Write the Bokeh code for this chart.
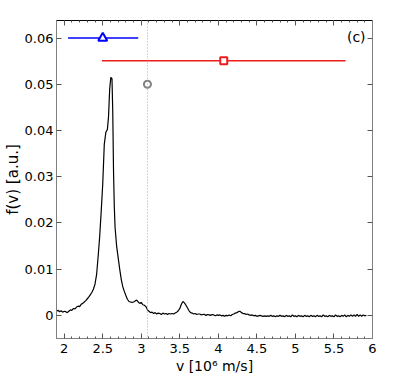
from bokeh.plotting import figure
from bokeh.models import (LinearAxis, SingleIntervalTicker, CustomJSTickFormatter,
                          Span, Label, Range1d)
from bokeh.embed import file_html
from bokeh.resources import INLINE

# ---- data -------------------------------------------------------------
v = [1.90, 1.92, 1.94, 1.96, 1.98, 2.00, 2.02, 2.04, 2.06, 2.08, 2.10, 2.12, 2.14,
     2.16, 2.18, 2.20, 2.22, 2.24, 2.26, 2.28, 2.30, 2.32, 2.34, 2.36, 2.38, 2.40,
     2.42, 2.44, 2.46, 2.48, 2.50, 2.52, 2.54, 2.56, 2.575, 2.59, 2.605, 2.62, 2.63,
     2.64, 2.65, 2.66, 2.68, 2.70, 2.72, 2.74, 2.76, 2.78, 2.80, 2.82, 2.84, 2.86,
     2.88, 2.90, 2.92, 2.94, 2.96, 2.98, 3.00, 3.02, 3.04, 3.06, 3.08, 3.10, 3.12,
     3.14, 3.16, 3.18, 3.20, 3.22, 3.24, 3.26, 3.28, 3.30, 3.32, 3.34, 3.36, 3.38,
     3.40, 3.42, 3.44, 3.46, 3.48, 3.50, 3.52, 3.54, 3.56, 3.58, 3.60, 3.62, 3.64,
     3.66, 3.68, 3.70, 3.72, 3.74, 3.76, 3.78, 3.80, 3.82, 3.84, 3.86, 3.88, 3.90,
     3.92, 3.94, 3.96, 3.98, 4.00, 4.02, 4.04, 4.06, 4.08, 4.10, 4.12, 4.14, 4.16,
     4.18, 4.20, 4.22, 4.24, 4.26, 4.28, 4.30, 4.32, 4.34, 4.36, 4.38, 4.40, 4.42,
     4.44, 4.46, 4.48, 4.50, 4.52, 4.54, 4.56, 4.58, 4.60, 4.62, 4.64, 4.66, 4.68,
     4.70, 4.72, 4.74, 4.76, 4.78, 4.80, 4.82, 4.84, 4.86, 4.88, 4.90, 4.92, 4.94,
     4.96, 4.98, 5.00, 5.02, 5.04, 5.06, 5.08, 5.10, 5.12, 5.14, 5.16, 5.18, 5.20,
     5.22, 5.24, 5.26, 5.28, 5.30, 5.32, 5.34, 5.36, 5.38, 5.40, 5.42, 5.44, 5.46,
     5.48, 5.50, 5.52, 5.54, 5.56, 5.58, 5.60, 5.62, 5.64, 5.66, 5.68, 5.70, 5.72,
     5.74, 5.76, 5.78, 5.80, 5.82, 5.84, 5.86, 5.88, 5.90, 5.92]

f = [0.0009, 0.0011, 0.0008, 0.0010, 0.0007, 0.0009, 0.0008, 0.0006, 0.0009, 0.0012,
     0.0011, 0.0015, 0.0014, 0.0018, 0.0020, 0.0019, 0.0024, 0.0026, 0.0029, 0.0032,
     0.0036, 0.0040, 0.0045, 0.0050, 0.0057, 0.0068,
     0.0088, 0.0127, 0.0170, 0.0225, 0.0285, 0.0370, 0.0396, 0.0402, 0.0430, 0.0490,
     0.0515, 0.0512, 0.0440, 0.0310, 0.0235, 0.0190, 0.0150, 0.0125, 0.0100, 0.0078,
     0.0062, 0.0052, 0.0043, 0.0035, 0.0030, 0.0029, 0.0028, 0.0029, 0.0031, 0.0033,
     0.0029, 0.0026, 0.0028, 0.0023, 0.0022, 0.0019, 0.0012, 0.0009, 0.0006, 0.0007,
     0.0004, 0.0006, 0.0003, 0.0005, 0.0004, 0.0002, 0.0005, 0.0003, 0.0004, 0.0002,
     0.0004, 0.0003, 0.0004, 0.0003, 0.0005, 0.0007, 0.0010, 0.0015, 0.0024, 0.0030,
     0.0027, 0.0022, 0.0016, 0.0010, 0.0006, 0.0005, 0.0003, 0.0004, 0.0002, 0.0003,
     0.0003, 0.0001, 0.0002, 0.0002, 0.0000, 0.0002, 0.0001, 0.0000, 0.0002, 0.0001,
     -0.0001, 0.0001, 0.0000, 0.0001, -0.0001, 0.0000, -0.0002, 0.0000, -0.0001, 0.0001,
     -0.0001, 0.0002, 0.0003, 0.0005, 0.0006, 0.0008, 0.0009, 0.0006, 0.0004, 0.0004,
     0.0002, 0.0003, 0.0001, 0.0000, 0.0001, -0.0001, 0.0000, -0.0002, -0.0001, 0.0000,
     -0.0001, -0.0002, -0.0001, -0.0002, -0.0001, -0.0002, 0.0000, -0.0002, -0.0001,
     -0.0003, -0.0001, -0.0002, 0.0000, -0.0002, -0.0001, -0.0003, 0.0000, -0.0002,
     -0.0001, -0.0003, 0.0001, -0.0002, -0.0001, -0.0003, 0.0000, -0.0002, -0.0001,
     -0.0003, 0.0000, -0.0002, -0.0001, -0.0003, 0.0000, -0.0002, -0.0001, -0.0003,
     0.0000, -0.0002, -0.0001, -0.0003, 0.0001, -0.0002, -0.0001, -0.0003, 0.0000,
     -0.0002, -0.0001, -0.0003, 0.0001, -0.0002, -0.0001, -0.0003, 0.0000, -0.0002,
     0.0001, -0.0003, 0.0000, -0.0002, 0.0001, -0.0002, 0.0001, -0.0002, 0.0002,
     -0.0002, 0.0001, -0.0002, 0.0001, -0.0001, 0.0000]

# characteristic velocities with ranges
blue_v, blue_lo, blue_hi, blue_y = [2.50], [2.05], [2.96], [0.060]
red_v, red_lo, red_hi, red_y = [4.07], [2.49], [5.65], [0.0551]
grey_v, grey_y = [3.08], [0.050]
ref_v = 3.08

x_range = (1.9, 6.0)
y_range = (-0.005, 0.0638)

FONT = "DejaVu Sans"

p = figure(frame_width=316, frame_height=318, output_backend="svg",
           toolbar_location=None, x_range=Range1d(*x_range), y_range=Range1d(*y_range),
           min_border_left=49, min_border_right=20, min_border_top=20,
           min_border_bottom=36)
p.outline_line_color = None
p.grid.visible = False
p.background_fill_color = "white"
p.border_fill_color = "white"

xt = SingleIntervalTicker(interval=0.5, num_minor_ticks=5)
yt = SingleIntervalTicker(interval=0.01, num_minor_ticks=0)
xfmt = CustomJSTickFormatter(code="return (Math.round(tick*10)/10).toString();")
yfmt = CustomJSTickFormatter(code="return Math.abs(tick) < 1e-9 ? '0' : tick.toFixed(2);")
blankfmt = CustomJSTickFormatter(code="return '';")

def style(ax, color, labels=True):
    ax.axis_line_color = color
    ax.major_tick_line_color = "#555555"
    ax.minor_tick_line_color = "#555555"
    ax.major_tick_in = 5
    ax.major_tick_out = 0
    ax.minor_tick_in = 2
    ax.minor_tick_out = 0
    ax.major_label_text_font = FONT
    ax.major_label_text_color = "black"
    ax.axis_label_text_font = FONT
    ax.axis_label_text_font_style = "normal"
    ax.axis_label_text_color = "black"
    ax.major_label_text_font_size = "13px"
    if not labels:
        ax.major_label_standoff = 0

xa = p.xaxis[0]
xa.ticker = xt
xa.formatter = xfmt
style(xa, "#808080")
xa.major_label_standoff = 5
xa.axis_label = "v [10\u2076 m/s]"
xa.axis_label_text_font_size = "14px"
xa.axis_label_standoff = 2

ya = p.yaxis[0]
ya.ticker = yt
ya.formatter = yfmt
style(ya, "#808080")
ya.major_label_standoff = 3
ya.axis_label = "f(v) [a.u.]"
ya.axis_label_text_font_size = "15px"
ya.axis_label_standoff = 0

top = LinearAxis(ticker=SingleIntervalTicker(interval=0.5, num_minor_ticks=5),
                 formatter=blankfmt)
style(top, "black", labels=False)
p.add_layout(top, "above")

right = LinearAxis(ticker=SingleIntervalTicker(interval=0.01, num_minor_ticks=0),
                   formatter=blankfmt)
style(right, "#808080", labels=False)
p.add_layout(right, "right")

p.add_layout(Span(location=ref_v, dimension="height", line_color="#a8a8a8",
                  line_dash="1 2", line_width=1))

p.line(v, f, line_color="black", line_width=1.2)

p.segment(x0=blue_lo, y0=blue_y, x1=blue_hi, y1=blue_y, line_color="#0000ff",
          line_width=1.5)
p.segment(x0=red_lo, y0=red_y, x1=red_hi, y1=red_y, line_color="#ee1c1c",
          line_width=1.5)
p.scatter(blue_v, blue_y, marker="triangle", size=9, line_color="#0000ff",
          fill_color="white", line_width=2)
p.scatter(red_v, red_y, marker="square", size=7, line_color="#ee1c1c",
          fill_color="white", line_width=2)
p.scatter(grey_v, grey_y, marker="circle", size=7, line_color="#808080",
          fill_color="white", line_width=2)

p.add_layout(Label(x=5.91, y=0.0603, text="(c)", text_align="right",
                   text_baseline="middle", text_font=FONT, text_font_size="14px",
                   text_color="black"))

open("out.html", "w").write(file_html(p, INLINE))
